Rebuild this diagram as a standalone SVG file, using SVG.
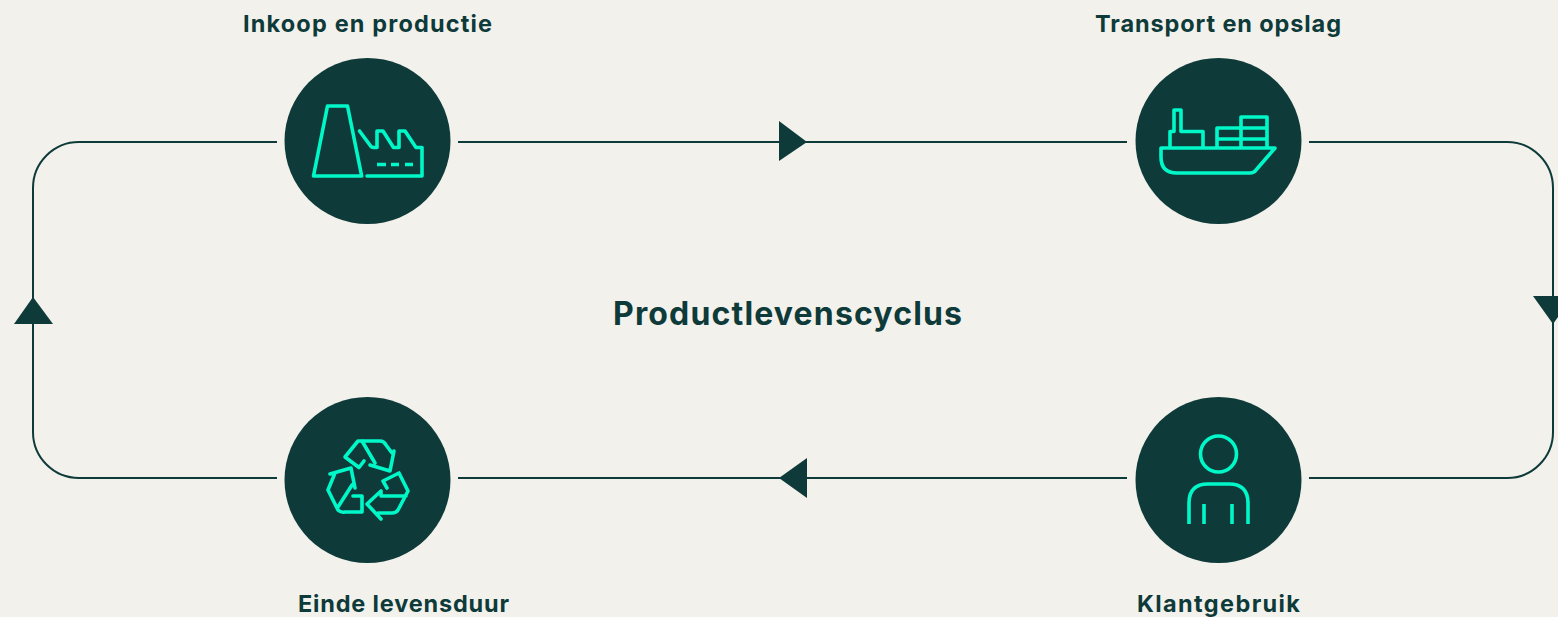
<svg xmlns="http://www.w3.org/2000/svg" width="1558" height="617" viewBox="0 0 1558 617">
<style>
.bg{fill:#f3f1ec}
.disc{fill:#0e3b3a}
.line{fill:none;stroke:#0e3b3a;stroke-width:2}
.head{fill:#0e3b3a}
.ico{fill:none;stroke:#00f8c8;stroke-width:3.600;stroke-linejoin:round;stroke-linecap:round}
.ico2{fill:none;stroke:#00f8c8;stroke-width:3.600;stroke-linejoin:round}
text{font-family:"Inter","Liberation Sans",sans-serif;font-weight:700;fill:#0e3b3a;text-anchor:middle}
.lab{font-size:23.500px}
.title{font-size:32px}
</style>
<rect class="bg" width="1558" height="617"/>
<g id="connectors">
<path class="line" d="M277 142H79A46 46 0 0 0 33 188V432A46 46 0 0 0 79 478H277"/>
<path class="line" d="M458 142H1127"/>
<path class="line" d="M1309 142H1507A46 46 0 0 1 1553 188V432A46 46 0 0 1 1507 478H1309"/>
<path class="line" d="M458 478H1127"/>
<path class="head" d="M779 121L807 142L779 161Z"/>
<path class="head" d="M807 458L779 478L807 498Z"/>
<path class="head" d="M33 297L53 324H14Z"/>
<path class="head" d="M1533 296H1573L1553 324Z"/>
</g>
<g id="node-inkoop">
<circle class="disc" cx="367.500" cy="141" r="83"/>
<path class="ico" d="M327.500 106H347.500L361.700 176H313.500Z"/>
<path class="ico" d="M359.500 131L371 146.500Q372 147.500 374 147.500H377V131H383L393.500 147.500H399V131H405L416 147.500H422V176H367"/>
<path class="ico2" d="M377 164.500H386M391 164.500H399M405 164.500H413"/>
<text class="lab" x="367.500" y="32" textLength="249" lengthAdjust="spacing">Inkoop en productie</text>
</g>
<g id="node-transport">
<circle class="disc" cx="1218.500" cy="141" r="83"/>
<path class="ico" d="M1161 148H1275L1256 170Q1254 173 1250 173H1177Q1161 173 1161 157Z"/>
<path class="ico" d="M1170 147V131.500H1174V110H1181V131.500H1203V147"/>
<path class="ico" d="M1217 147V128H1267M1241 147V117H1267V147M1217 139H1267"/>
<text class="lab" x="1218" y="32" textLength="246" lengthAdjust="spacing">Transport en opslag</text>
</g>
<g id="node-klantgebruik">
<circle class="disc" cx="1218.500" cy="480" r="83"/>
<circle class="ico" cx="1218.500" cy="454" r="18"/>
<path class="ico2" d="M1189 524V503Q1189 484 1208 484H1229Q1248 484 1248 503V524M1204 504V524M1232 504V524"/>
<text class="lab" x="1218.500" y="612" textLength="163" lengthAdjust="spacing">Klantgebruik</text>
</g>
<g id="node-einde">
<circle class="disc" cx="367.500" cy="480" r="83"/>
<path class="ico" d="M359 467.500L345 457L358 441H380Q384 441 386 445L392 453M394 451L390 471L370 465M362 441L375 463M359 467.500L364 461"/>
<path class="ico" d="M330 474L351 468L355 488M352 485L338 507M335 473L328 490L338 510Q341 513 345 512H362V496H353"/>
<path class="ico" d="M387 488L383 481L399 473L408 491L398 510Q396 513 392 513H378M381 519L367 504L381 491V496H406"/>
<text class="lab" x="403.500" y="612" textLength="211" lengthAdjust="spacing">Einde levensduur</text>
</g>
<text class="title" x="787.500" y="325" textLength="349" lengthAdjust="spacing">Productlevenscyclus</text>
</svg>
